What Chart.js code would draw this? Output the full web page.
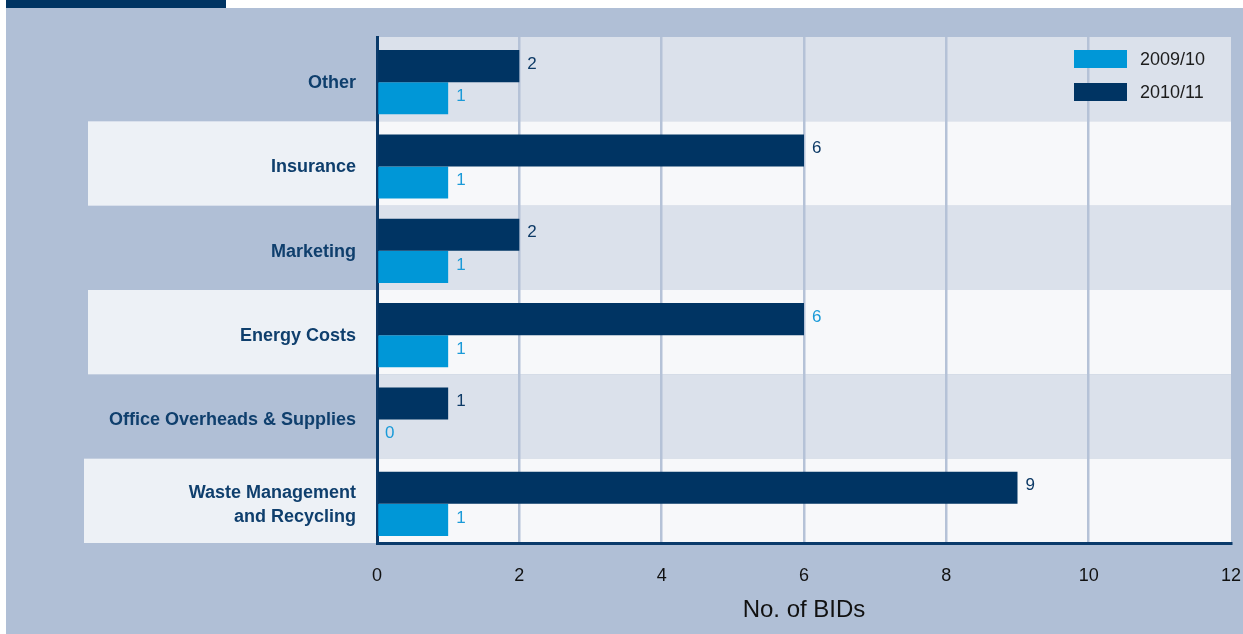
<!DOCTYPE html>
<html>
<head>
<meta charset="utf-8">
<script src="https://cdn.jsdelivr.net/npm/chart.js@4.4.1/dist/chart.umd.min.js"></script>
<style>
  html, body { margin: 0; padding: 0; background: #ffffff; }
  body { width: 1243px; height: 634px; position: relative; overflow: hidden; }
  #tab { position: absolute; left: 6px; top: 0; width: 220px; height: 8px; background: #003463; }
  #panel { position: absolute; left: 6px; top: 8px; width: 1237px; height: 626px; background: #b0bfd6; }
</style>
</head>
<body>
<div id="tab"></div>
<div id="panel"><canvas id="chart" width="1237" height="626"></canvas></div>
<script>
const categories = [
  "Other",
  "Insurance",
  "Marketing",
  "Energy Costs",
  "Office Overheads & Supplies",
  ["Waste Management", "and Recycling"],
];
const seriesNames = ["2010/11", "2009/10"];
const bids2010 = [2, 6, 2, 6, 1, 9];
const bids2009 = [1, 1, 1, 1, 0, 1];
const xTicks = [0, 2, 4, 6, 8, 10, 12];

const NAVY = "#003463";
const CYAN = "#0097d7";
const FONT = "'Liberation Sans', Arial, Helvetica, sans-serif";

// alternating row bands, light rows also reach into the label column
const rowBands = {
  id: "rowBands",
  beforeDraw(chart) {
    const { ctx, chartArea } = chart;
    const rowH = (chartArea.bottom - chartArea.top) / categories.length;
    ctx.save();
    categories.forEach((c, i) => {
      const top = chartArea.top + i * rowH;
      if (i % 2 === 0) {
        ctx.fillStyle = "#dbe1eb";
        ctx.fillRect(chartArea.left, top, chartArea.right - chartArea.left, rowH);
      } else {
        ctx.fillStyle = "#edf1f6";
        const left = i === categories.length - 1 ? 78 : 82;
        ctx.fillRect(left, top, chartArea.left - left, rowH);
        ctx.fillStyle = "#f7f8fa";
        ctx.fillRect(chartArea.left, top, chartArea.right - chartArea.left, rowH);
      }
    });
    ctx.restore();
  },
};

// bar groups sit a little below the row centre; value labels at bar ends
const barValues = {
  id: "barValues",
  beforeDatasetsDraw(chart) {
    chart.ctx.save();
    chart.ctx.translate(0, 3);
  },
  afterDatasetsDraw(chart) {
    const { ctx } = chart;
    ctx.font = "17px " + FONT;
    ctx.textBaseline = "middle";
    ctx.textAlign = "left";
    chart.data.datasets.forEach((ds, di) => {
      chart.getDatasetMeta(di).data.forEach((bar, i) => {
        let color = di === 0 ? "#0d3a66" : "#1a9ad8";
        if (di === 0 && i === 3) color = "#1a9ad8";
        ctx.fillStyle = color;
        ctx.fillText(String(ds.data[i]), bar.x + 8, bar.y - 2);
      });
    });
    ctx.restore();
  },
};

// legend boxes in the top right corner of the plot
const cornerLegend = {
  id: "cornerLegend",
  afterDraw(chart) {
    const { ctx } = chart;
    const items = [
      { text: seriesNames[1], color: CYAN },
      { text: seriesNames[0], color: NAVY },
    ];
    ctx.save();
    ctx.font = "18px " + FONT;
    ctx.textBaseline = "middle";
    items.forEach((it, k) => {
      const top = 42 + k * 33;
      ctx.fillStyle = it.color;
      ctx.fillRect(1068, top, 53, 18);
      ctx.fillStyle = "#1c1c1c";
      ctx.fillText(it.text, 1134, top + 10);
    });
    ctx.restore();
  },
};

new Chart(document.getElementById("chart"), {
  type: "bar",
  data: {
    labels: categories,
    datasets: [
      { label: seriesNames[0], data: bids2010, backgroundColor: NAVY },
      { label: seriesNames[1], data: bids2009, backgroundColor: CYAN },
    ],
  },
  options: {
    indexAxis: "y",
    responsive: false,
    animation: false,
    layout: { padding: { left: 0, right: 12, top: 29, bottom: 0 } },
    datasets: { bar: { categoryPercentage: 0.76, barPercentage: 1.0 } },
    plugins: { legend: { display: false }, tooltip: { enabled: false } },
    scales: {
      x: {
        min: 0,
        max: 12,
        afterBuildTicks(scale) {
          scale.ticks = xTicks.map(v => ({ value: v }));
        },
        afterFit(scale) {
          scale.height = 91;
          scale.paddingLeft = 0;
          scale.paddingRight = 0;
        },
        grid: {
          drawTicks: false,
          lineWidth: 2.5,
          color: ctx => (ctx.tick && (ctx.tick.value === 0 || ctx.tick.value === 12)) ? "rgba(0,0,0,0)" : "#b5c2d7",
        },
        border: { color: "#0a3a6a", width: 3 },
        ticks: { padding: 22, color: "#111111", font: { family: FONT, size: 18 } },
        title: {
          display: true,
          text: "No. of BIDs",
          color: "#111111",
          font: { family: FONT, size: 24 },
          padding: { top: 0, bottom: 9 },
        },
      },
      y: {
        afterFit(scale) {
          scale.width = 371;
          scale.paddingTop = 0;
          scale.paddingBottom = 0;
        },
        grid: { display: false, drawTicks: false },
        border: { color: "#0a3a6a", width: 3 },
        ticks: {
          padding: 21,
          labelOffset: 4,
          color: "#0f3f6d",
          font: { family: FONT, size: 18, weight: "bold", lineHeight: 1.35 },
        },
      },
    },
  },
  plugins: [rowBands, barValues, cornerLegend],
});
</script>
</body>
</html>
